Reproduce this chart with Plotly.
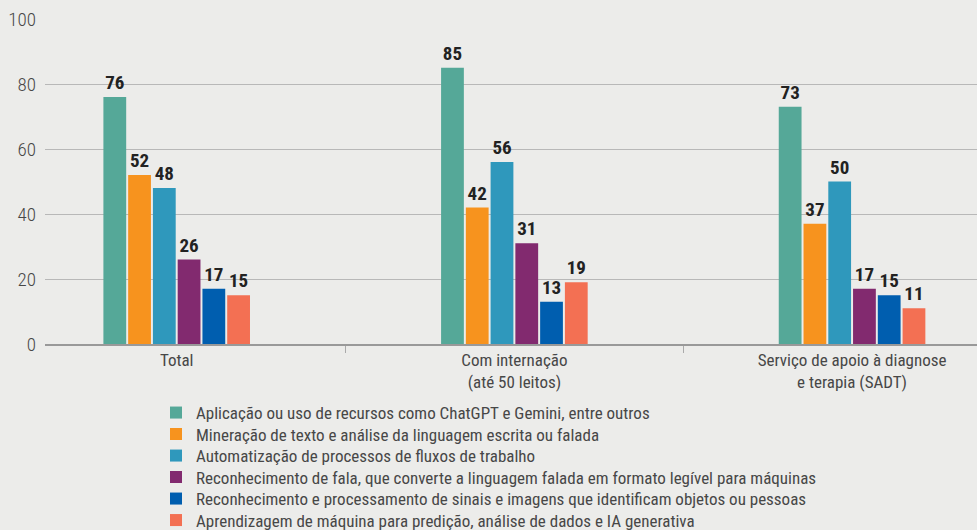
import plotly.graph_objects as go

categories = ["Total", "Com internação<br>(até 50 leitos)", "Serviço de apoio à diagnose<br>e terapia (SADT)"]

series_names = [
    "Aplicação ou uso de recursos como ChatGPT e Gemini, entre outros",
    "Mineração de texto e análise da linguagem escrita ou falada",
    "Automatização de processos de fluxos de trabalho",
    "Reconhecimento de fala, que converte a linguagem falada em formato legível para máquinas",
    "Reconhecimento e processamento de sinais e imagens que identificam objetos ou pessoas",
    "Aprendizagem de máquina para predição, análise de dados e IA generativa",
]

chatgpt = [76, 85, 73]
mineracao = [52, 42, 37]
automatizacao = [48, 56, 50]
fala = [26, 31, 17]
imagens = [17, 13, 15]
aprendizagem = [15, 19, 11]

colors = ["#55A898", "#F7931E", "#2F98BC", "#822A6F", "#005EAF", "#F37053"]

y_ticks = [0, 20, 40, 60, 80, 100]

FONT = "Roboto Condensed, DejaVu Sans Condensed, sans-serif"
BG = "#ECECEA"
TXT = "#474747"
W, H = 977, 530

fig = go.Figure()
legend_ids = ["legend", "legend2", "legend3", "legend4", "legend5", "legend6"]
for name, vals, col, lid in zip(series_names,
                                [chatgpt, mineracao, automatizacao, fala, imagens, aprendizagem],
                                colors, legend_ids):
    fig.add_trace(go.Bar(
        x=categories, y=vals, name=name, legend=lid,
        marker=dict(color=col, line=dict(width=0)),
        text=[str(v) for v in vals], textposition="outside",
        textfont=dict(family=FONT, size=19, color="#222222", weight="bold"),
        cliponaxis=False,
    ))

# one legend box per series so the rows can sit 21 px apart, as in the reference
legend_rows_px = [413, 434.5, 456, 477.5, 499, 520.5]
legend_layout = {}
for lid, row in zip(legend_ids, legend_rows_px):
    legend_layout[lid] = dict(
        x=156 / W, xref="container", xanchor="left",
        y=1 - row / H, yref="container", yanchor="middle",
        font=dict(family=FONT, size=17, color=TXT),
        bgcolor="rgba(0,0,0,0)", itemwidth=30, borderwidth=0,
    )

fig.update_layout(
    width=W, height=H,
    paper_bgcolor=BG, plot_bgcolor=BG,
    barmode="group", bargap=0.56, bargroupgap=0.08,
    margin=dict(l=45, r=0, t=19, b=186, autoexpand=False),
    font=dict(family=FONT, size=17, color=TXT),
    showlegend=True,
    **legend_layout,
)

fig.update_xaxes(
    type="category", range=[-0.39, 2.37],
    showline=True, linecolor="#999999", linewidth=1.5,
    tickson="boundaries", ticks="outside", ticklen=7, tickcolor="#aaaaaa", tickwidth=1.2,
    tickfont=dict(family=FONT, size=17, color=TXT),
    showgrid=False, zeroline=False,
)
fig.update_yaxes(
    range=[0, 100], tickvals=y_ticks, ticktext=[str(v) for v in y_ticks],
    showgrid=True, gridcolor="#B8B8B8", gridwidth=1.2,
    zeroline=False, showline=False, ticks="", ticklabelstandoff=8,
    tickfont=dict(family=FONT, size=19, color=TXT, weight=300),
)

fig.write_html("out.html", config={"displayModeBar": False},
               post_script="document.body.style.margin='0px';")
